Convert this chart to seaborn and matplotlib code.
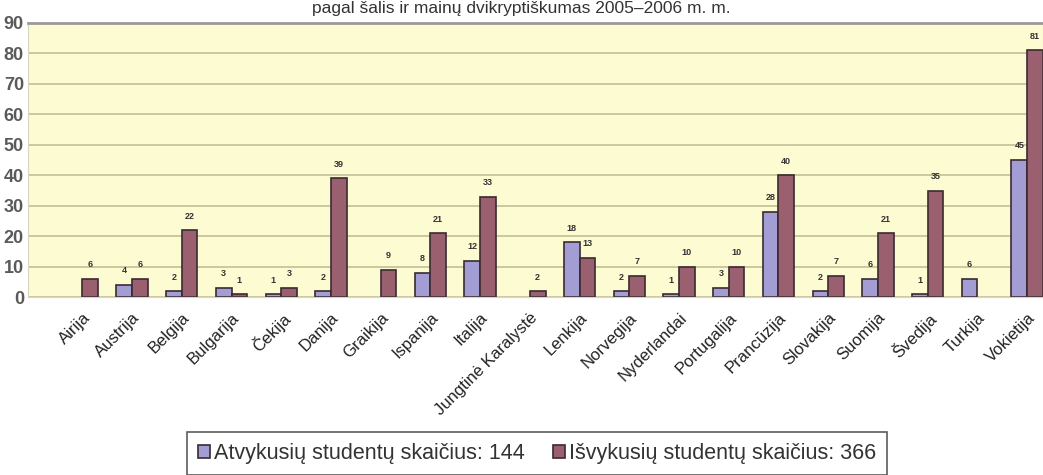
import pandas as pd
import matplotlib
matplotlib.use('Agg')
import matplotlib.pyplot as plt
import seaborn as sns

# Data
countries = ['Airija', 'Austrija', 'Belgija', 'Bulgarija', 'Čekija', 'Danija', 'Graikija',
             'Ispanija', 'Italija', 'Jungtinė Karalystė', 'Lenkija', 'Norvegija', 'Nyderlandai',
             'Portugalija', 'Prancūzija', 'Slovakija', 'Suomija', 'Švedija', 'Turkija', 'Vokietija']
incoming = [0, 4, 2, 3, 1, 2, 0, 8, 12, 0, 18, 2, 1, 3, 28, 2, 6, 1, 6, 45]
outgoing = [6, 6, 22, 1, 3, 39, 9, 21, 33, 2, 13, 7, 10, 10, 40, 7, 21, 35, 0, 81]
series_names = ['Atvykusių studentų skaičius: 144', 'Išvykusių studentų skaičius: 366']
title = 'pagal šalis ir mainų dvikryptiškumas 2005–2006 m. m.'

df = pd.DataFrame({'Šalis': countries * 2,
                   'Skaičius': incoming + outgoing,
                   'Serija': [series_names[0]] * len(countries) + [series_names[1]] * len(countries)})

sns.set_style('white')
plt.rcParams['font.family'] = ['Liberation Sans', 'DejaVu Sans']

fig = plt.figure(figsize=(10.43, 4.75), dpi=100)
ax = fig.add_axes([0.027, 0.374, 0.973, 0.578])
ax.set_facecolor('#fdfbd2')

palette = ['#9b95dc', '#a5566b']
sns.barplot(data=df, x='Šalis', y='Skaičius', hue='Serija', palette=palette,
            width=0.63, edgecolor='#3a2a30', linewidth=1.2, ax=ax, legend=True)

# hide zero-height bars, label the rest
for container, vals in zip(ax.containers, [incoming, outgoing]):
    for patch, v in zip(container.patches, vals):
        if v == 0:
            patch.set_visible(False)
    ax.bar_label(container, labels=[str(v) if v > 0 else '' for v in vals],
                 padding=7, fontsize=6.5, fontweight='bold', color='#333333')

ax.set_ylim(0, 90)
ax.set_xlim(-1.09, len(countries) - 0.68)
ax.set_yticks(range(0, 91, 10))
ax.yaxis.grid(True, color='#c8c49a', linewidth=1.3)
ax.set_axisbelow(True)
ax.tick_params(axis='y', labelsize=13, labelcolor='#5a5a5a', pad=3, length=0)
for lab in ax.get_yticklabels():
    lab.set_fontweight('bold')
ax.tick_params(axis='x', labelsize=12, labelcolor='#222222', length=0, pad=9)
plt.setp(ax.get_xticklabels(), rotation=45, ha='right', rotation_mode='anchor')
ax.set_xlabel('')
ax.set_ylabel('')
for side in ['left', 'right', 'bottom']:
    ax.spines[side].set_color('#d8d6c0')
ax.spines['top'].set_color('#999999')
ax.spines['top'].set_linewidth(2)

handles, labels = ax.get_legend_handles_labels()
ax.get_legend().remove()
leg = fig.legend(handles, labels, loc='center', bbox_to_anchor=(0.515, 0.045), ncol=2,
                 fontsize=15.5, frameon=True, fancybox=False, edgecolor='#333333',
                 handlelength=0.55, handleheight=0.55, handletextpad=0.2, columnspacing=1.3,
                 borderpad=0.5, borderaxespad=0)
leg.get_frame().set_linewidth(1.2)
for t in leg.get_texts():
    t.set_color('#333333')

fig.text(0.5, 0.998, title, ha='center', va='top', fontsize=12.5, color='#333333')

fig.savefig('out.png', dpi=100)
